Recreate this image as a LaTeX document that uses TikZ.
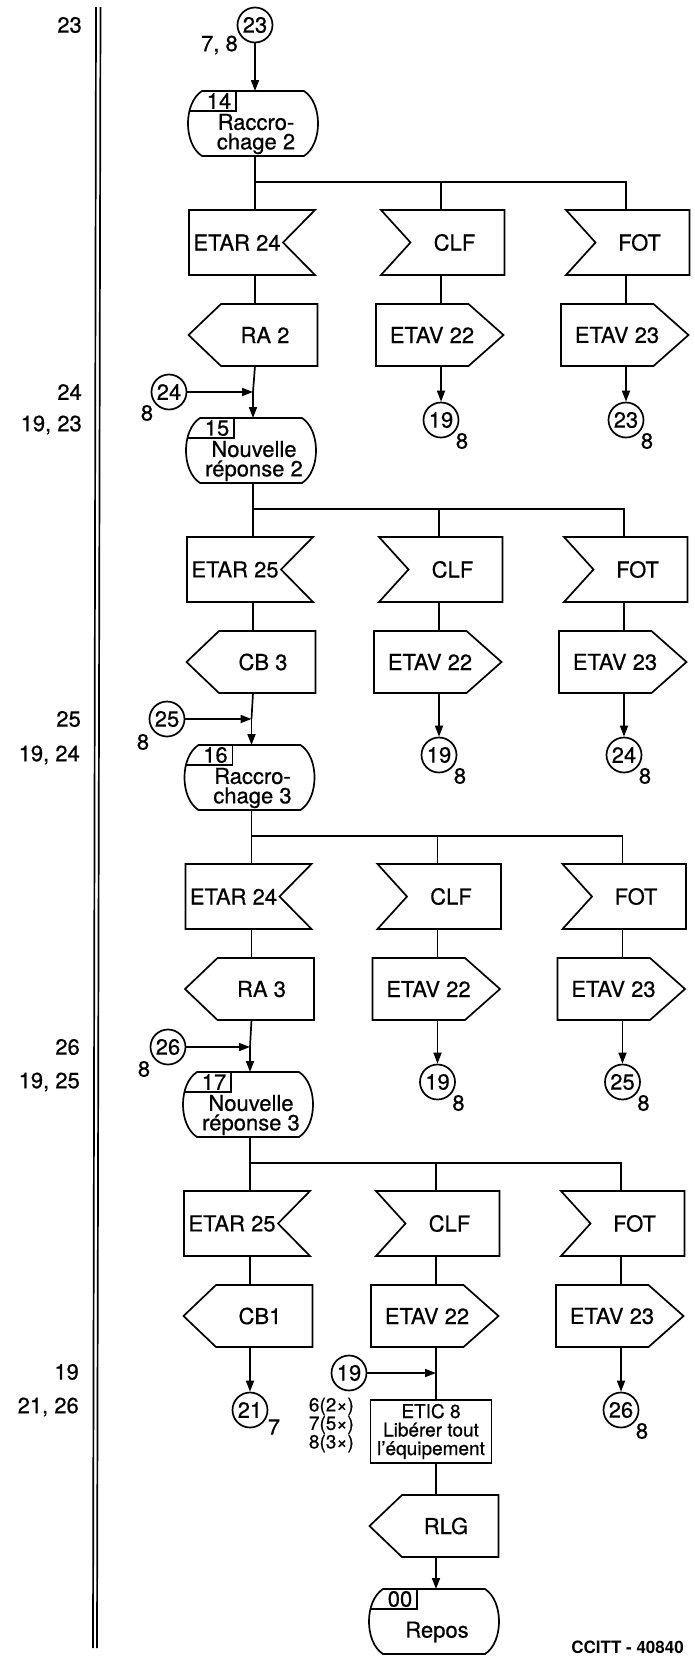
\documentclass[tikz,border=0pt]{standalone}
\usepackage{fontspec}
\setmainfont{TeX Gyre Heros}
\usetikzlibrary{arrows.meta, calc, positioning}
\newcommand{\fnorm}{\fontsize{22}{19.5}\selectfont\addfontfeatures{FakeBold=0.6}}
\newcommand{\fsmall}{\fontsize{19}{18.5}\selectfont\addfontfeatures{FakeBold=0.6}}
\tikzset{
  flowline/.style={line width=1.7pt},
  arr/.style={line width=1.7pt, -{Triangle[length=11pt,width=8pt]}},
  txt/.style={font=\fnorm, inner sep=0pt},
  conn/.style={circle, draw, line width=1.7pt, minimum size=35pt, inner sep=0pt, font=\fnorm},
  % state symbol with number box
  pics/statebox/.style n args={2}{code={
    \draw[flowline] (-53,0) -- (49,0) .. controls (67.7,12) and (67.7,53) .. (49,65)
      -- (-53,65) .. controls (-71.7,53) and (-71.7,12) .. cycle;
    \draw[flowline] (-65.5,20) -- (-19,20) -- (-19,0);
    \node[txt] (-num) at (-36,10) {#1};
    \node[txt, align=center] (-txt) at (1,43) {#2};
    \coordinate (-top) at (0,0);
    \coordinate (-bot) at (0,65);
  }},
  % input, notch on the right
  pics/inR/.style={code={
    \draw[flowline] (-66,0) -- (60,0) -- (28,32.5) -- (60,65) -- (-66,65) -- cycle;
    \node[txt] (-txt) at (-18,32.5) {#1};
    \coordinate (-top) at (0,0);
    \coordinate (-bot) at (0,65);
  }},
  % input, notch on the left
  pics/inL/.style={code={
    \draw[flowline] (-60,0) -- (63.5,0) -- (63.5,65) -- (-60,65) -- (-30.5,32.5) -- cycle;
    \node[txt] (-txt) at (13.5,32.5) {#1};
    \coordinate (-top) at (0,0);
    \coordinate (-bot) at (0,65);
  }},
  % output, pointing right
  pics/outR/.style={code={
    \draw[flowline] (-65,0) -- (27.5,0) -- (62.5,31) -- (27.5,62) -- (-65,62) -- cycle;
    \node[txt] (-txt) at (-9,31) {#1};
    \coordinate (-top) at (0,0);
    \coordinate (-bot) at (0,62);
  }},
  % output, pointing left
  pics/outL/.style={code={
    \draw[flowline] (-34,0) -- (62.5,0) -- (62.5,62) -- (-34,62) -- (-66.5,31) -- cycle;
    \node[txt] (-txt) at (10,31) {#1};
    \coordinate (-top) at (0,0);
    \coordinate (-bot) at (0,62);
  }}
}
\begin{document}
\begin{tikzpicture}[x=1pt, y=-1pt]
\useasboundingbox (0,0) rectangle (695,1663);

% double rule
\draw[line width=1.7pt] (96,7) -- (93,1648);
\draw[line width=1.7pt] (100.5,7) -- (97,1648);

% the four state blocks
\foreach \blk/\ty/\dx/\num/\stxt/\etar/\outl in {
    1/91/0/14/Raccro-\\chage 2/24/RA 2,
    2/418/-2/15/Nouvelle\\réponse 2/25/CB 3,
    3/745/-3.5/16/Raccro-\\chage 3/24/RA 3,
    4/1072/-5/17/Nouvelle\\réponse 3/25/CB1}
{
  \pic (st\blk) at ({255+\dx},\ty) {statebox={\num}{\stxt}};
  \pic (ea\blk) at ({255+\dx},{\ty+119}) {inR={ETAR \etar}};
  \pic (cl\blk) at ({441+\dx},{\ty+119}) {inL=CLF};
  \pic (fo\blk) at ({626+\dx},{\ty+119}) {inL=FOT};
  \pic (ol\blk) at ({255+\dx},{\ty+213}) {outL=\outl};
  \pic (av\blk) at ({441+\dx},{\ty+213}) {outR={ETAV 22}};
  \pic (aw\blk) at ({626+\dx},{\ty+213}) {outR={ETAV 23}};
  \coordinate (br\blk) at ($(st\blk-bot)+(0,26)$);
  \draw[flowline] (st\blk-bot) -- (ea\blk-top);
  \draw[flowline] (br\blk) -| (fo\blk-top);
  \draw[flowline] (br\blk -| cl\blk-top) -- (cl\blk-top);
  \draw[flowline] (ea\blk-bot) -- (ol\blk-top);
  \draw[flowline] (cl\blk-bot) -- (av\blk-top);
  \draw[flowline] (fo\blk-bot) -- (aw\blk-top);
}

% entry connectors
\node[conn] (c23) at (255,25) {23};
\node[txt, anchor=east] (n78) at (238,45) {7, 8};
\draw[arr] (c23) -- (st1-top);

\node[conn] (c24) at (169,392) {24};
\node[txt] (c24s) at (147,413) {8};
\coordinate (j2) at (st2-top |- c24);
\draw[flowline] (ol1-bot) -- (j2);
\draw[arr] (j2) -- (st2-top);
\draw[arr] (c24) -- (j2);

\node[conn] (c25) at (167,719) {25};
\node[txt] (c25s) at (143,742) {8};
\coordinate (j3) at (st3-top |- c25);
\draw[flowline] (ol2-bot) -- (j3);
\draw[arr] (j3) -- (st3-top);
\draw[arr] (c25) -- (j3);

\node[conn] (c26) at (168,1047) {26};
\node[txt] (c26s) at (144,1069) {8};
\coordinate (j4) at (st4-top |- c26);
\draw[flowline] (ol3-bot) -- (j4);
\draw[arr] (j4) -- (st4-top);
\draw[arr] (c26) -- (j4);

% exit connectors
\node[conn] (r19a) at (441,420) {19};
\node[txt] (r19as) at ($(r19a)+(21,21)$) {8};
\draw[arr] (av1-bot) -- (r19a);
\node[conn] (r23) at (626,420) {23};
\node[txt] (r23s) at ($(r23)+(21,21)$) {8};
\draw[arr] (aw1-bot) -- (r23);

\node[conn] (r19b) at (439,755) {19};
\node[txt] (r19bs) at ($(r19b)+(21,21)$) {8};
\draw[arr] (av2-bot) -- (r19b);
\node[conn] (r24) at (624,755) {24};
\node[txt] (r24s) at ($(r24)+(21,21)$) {8};
\draw[arr] (aw2-bot) -- (r24);

\node[conn] (r19c) at (437.5,1082) {19};
\node[txt] (r19cs) at ($(r19c)+(21,21)$) {8};
\draw[arr] (av3-bot) -- (r19c);
\node[conn] (r25) at (622.5,1082) {25};
\node[txt] (r25s) at ($(r25)+(21,21)$) {8};
\draw[arr] (aw3-bot) -- (r25);

\node[conn] (r21) at (250,1410) {21};
\node[txt] (r21s) at ($(r21)+(24,17)$) {7};
\draw[arr] (ol4-bot) -- (r21);
\node[conn] (r26) at (621,1410) {26};
\node[txt] (r26s) at ($(r26)+(21,21)$) {8};
\draw[arr] (aw4-bot) -- (r26);

% release and back to idle
\node[conn] (e19) at (349,1373) {19};
\node[draw, line width=1.7pt, minimum width=121pt, minimum height=63pt, inner sep=0pt,
  align=center, font=\fsmall] (etic) at (431,1431.5) {ETIC 8\\Libérer tout\\l’équipement};
\node[txt, font=\fsmall, align=right, anchor=east] (cnt) at (354,1425) {6(2×)\\7(5×)\\8(3×)};
\coordinate (j5) at (av4-bot |- e19);
\draw[flowline] (av4-bot) -- (av4-bot |- etic.north);
\draw[arr] (e19) -- (j5);
\pic (rlg) at (436,1495) {outL=RLG};
\pic (st5) at (436,1589) {statebox={00}{Repos}};
\draw[flowline] (av4-bot |- etic.south) -- (rlg-top);
\draw[arr] (rlg-bot) -- (st5-top);

% left column
\node[txt, anchor=east] (l23) at (82,25) {23};
\node[txt, anchor=east] (l24) at (82,392) {24};
\node[txt, anchor=east] (l1923) at (82,425) {19, 23};
\node[txt, anchor=east] (l25) at (81,719) {25};
\node[txt, anchor=east] (l1924) at (80,755) {19, 24};
\node[txt, anchor=east] (l26) at (80,1047) {26};
\node[txt, anchor=east] (l1925) at (80,1082) {19, 25};
\node[txt, anchor=east] (l19) at (79,1372) {19};
\node[txt, anchor=east] (l2126) at (79,1407) {21, 26};

\node[font=\bfseries\fontsize{17}{17}\selectfont, anchor=east, inner sep=0pt] (ref) at (684,1647) {CCITT - 40840};
\end{tikzpicture}
\end{document}
